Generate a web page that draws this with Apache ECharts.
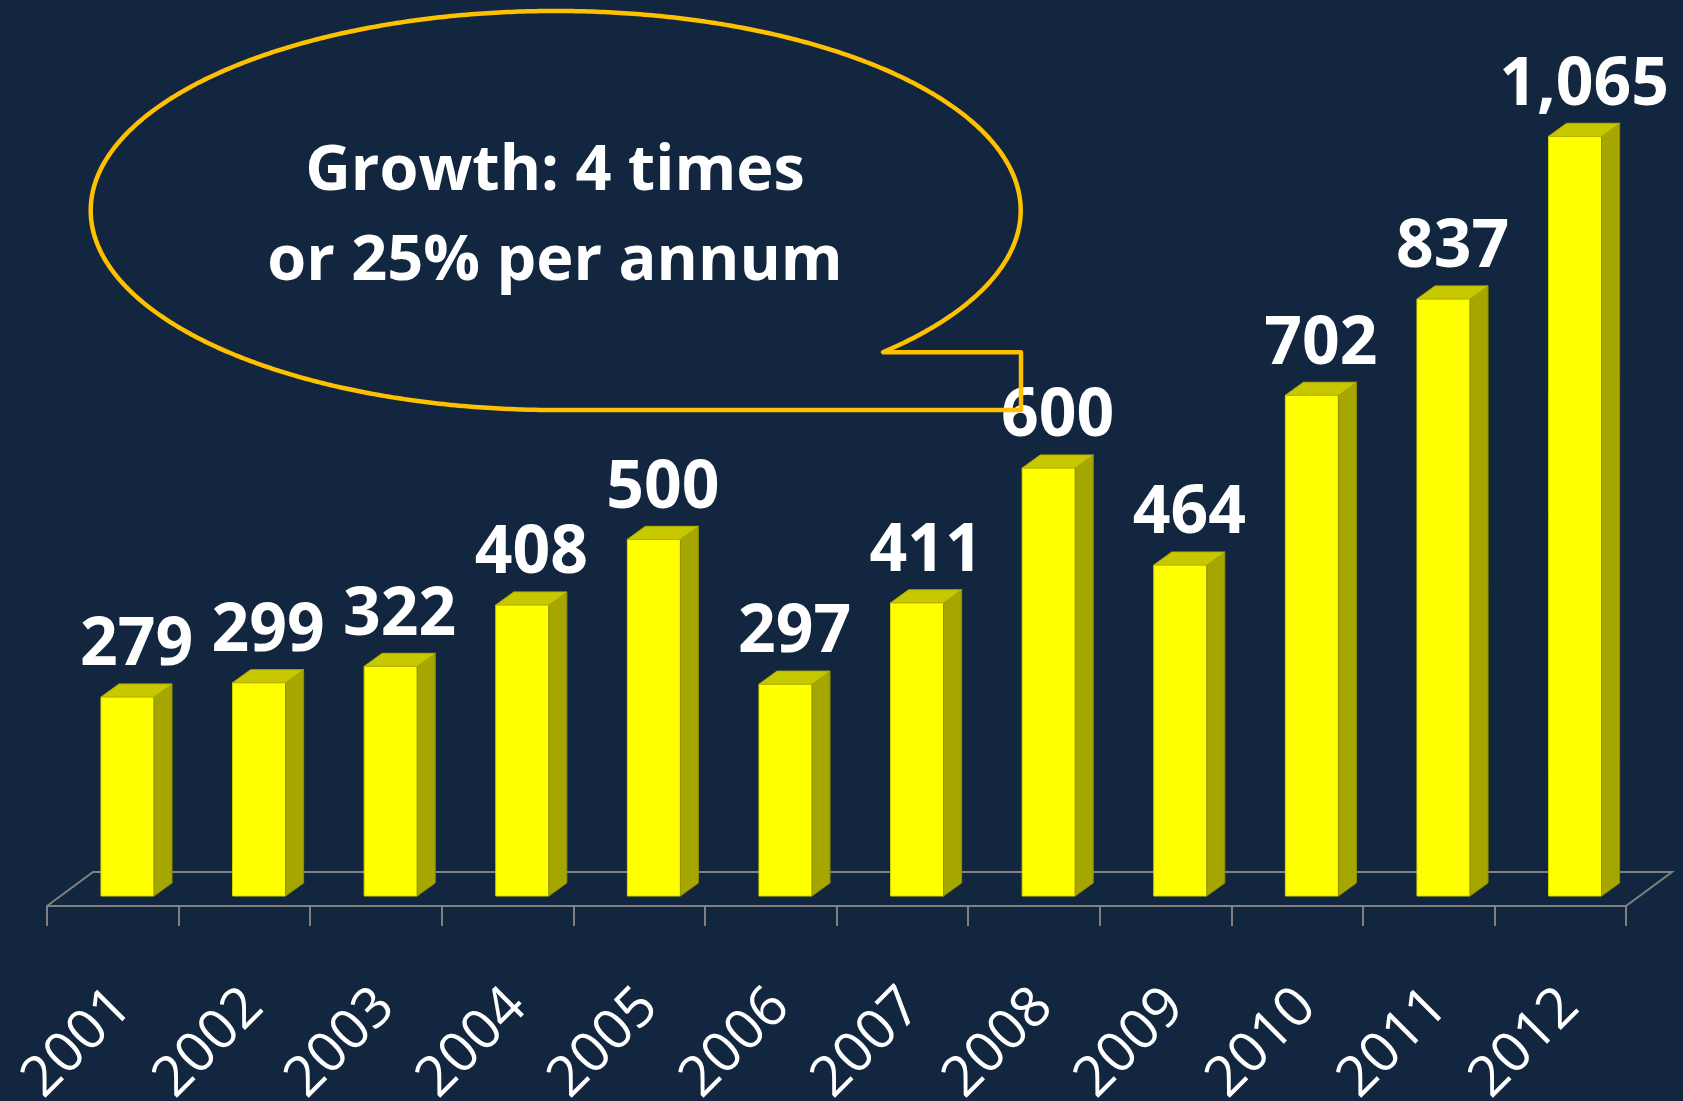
<!DOCTYPE html>
<html>
<head>
<meta charset="utf-8">
<title>Growth 2001–2012</title>
<script src="https://cdn.jsdelivr.net/npm/echarts@6/dist/echarts.min.js"></script>
<style>
  html, body { margin: 0; padding: 0; background: #12263f; }
  #chart { width: 1683px; height: 1101px; }
</style>
</head>
<body>
<div id="chart"></div>
<script>
// Yearly values shown as 3D columns
const years = ['2001', '2002', '2003', '2004', '2005', '2006', '2007', '2008', '2009', '2010', '2011', '2012'];
const values = [279, 299, 322, 408, 500, 297, 411, 600, 464, 702, 837, 1065];
const calloutLines = ['Growth: 4 times', 'or 25% per annum'];

const FONT = '"Open Sans", "Noto Sans", sans-serif';

// One 3D column: front face, shaded side, lighter top, and the value above it
function renderColumn(params, api) {
  const i = api.value(0);
  const v = api.value(1);
  const base = api.coord([i, 0]);
  const top = api.coord([i, v]);
  const band = api.size([1, 0])[0];
  const w = band * 0.403, dx = band * 0.137, dy = band * 0.099;
  const x0 = base[0] - w / 2, x1 = base[0] + w / 2;
  const y0 = base[1], y1 = top[1];
  return {
    type: 'group',
    children: [
      { type: 'polygon', shape: { points: [[x0, y1], [x1, y1], [x1, y0], [x0, y0]] },
        style: { fill: '#ffff00', stroke: '#d8d800', lineWidth: 1 } },
      { type: 'polygon', shape: { points: [[x1, y1], [x1 + dx, y1 - dy], [x1 + dx, y0 - dy], [x1, y0]] },
        style: { fill: '#a6a600', stroke: '#8e8e00', lineWidth: 1 } },
      { type: 'polygon', shape: { points: [[x0, y1], [x0 + dx, y1 - dy], [x1 + dx, y1 - dy], [x1, y1]] },
        style: { fill: '#c8c800', stroke: '#b0b000', lineWidth: 1 } },
      { type: 'text',
        style: { x: (x0 + x1 + dx) / 2, y: y1 - 50.5, text: v.toLocaleString('en-US'),
                 fill: '#ffffff', font: 'bold 66px ' + FONT, align: 'center', verticalAlign: 'middle' } }
    ]
  };
}

// Back edge and sides of the floor plate (front edge is the category axis line)
function renderFloor(params, api) {
  const cs = params.coordSys;
  const fy = cs.y + cs.height;
  const dx = 46, dy = 34;
  return {
    type: 'polyline',
    shape: { points: [[cs.x, fy], [cs.x + dx, fy - dy], [cs.x + cs.width + dx, fy - dy], [cs.x + cs.width, fy]] },
    style: { stroke: '#808080', lineWidth: 2, fill: null }
  };
}

// Speech-bubble outline: ellipse arc, then a squared-off tail back to the bottom of the ellipse
function bubblePoints(cx, cy, rx, ry, joinX, cornerX) {
  const pts = [];
  const endAngle = 2 * Math.PI + Math.acos((joinX - cx) / rx);
  for (let t = Math.PI / 2; t <= endAngle; t += Math.PI / 360) {
    pts.push([cx + rx * Math.cos(t), cy + ry * Math.sin(t)]);
  }
  const joinY = cy + ry * Math.sin(endAngle);
  pts.push([joinX, joinY]);
  pts.push([cornerX, joinY]);
  pts.push([cornerX, cy + ry]);
  pts.push([cx, cy + ry]);
  return pts;
}

const chart = echarts.init(document.getElementById('chart'));
chart.setOption({
  backgroundColor: '#12263f',
  animation: false,
  grid: [
    { left: 61.7, right: 42.1, top: 40, bottom: 205, outerBoundsMode: 'none', containLabel: false },
    { left: 47, right: 57, top: 40, bottom: 195, outerBoundsMode: 'none', containLabel: false },
    { left: 57, right: 47, top: 40, bottom: 195, outerBoundsMode: 'none', containLabel: false }
  ],
  xAxis: [
    { gridIndex: 0, type: 'category', data: years, show: false },
    { gridIndex: 1, type: 'category', data: years, boundaryGap: true,
      axisLine: { show: true, lineStyle: { color: '#808080', width: 2 } },
      axisTick: { show: true, inside: false, length: 20, alignWithLabel: false,
                  lineStyle: { color: '#808080', width: 2 } },
      axisLabel: { show: false } },
    { gridIndex: 2, type: 'category', data: years, boundaryGap: true,
      axisLine: { show: false }, axisTick: { show: false },
      axisLabel: { rotate: 45, margin: 92, color: '#ffffff', fontSize: 56,
                   fontFamily: FONT, interval: 0 } }
  ],
  yAxis: [
    { gridIndex: 0, type: 'value', min: 0, max: 1200, show: false },
    { gridIndex: 1, type: 'value', min: 0, max: 1, show: false },
    { gridIndex: 2, type: 'value', min: 0, max: 1, show: false }
  ],
  series: [
    { type: 'custom', xAxisIndex: 1, yAxisIndex: 1, z: 1, silent: true,
      renderItem: renderFloor, data: [[0, 0]] },
    { type: 'custom', xAxisIndex: 0, yAxisIndex: 0, z: 2, silent: true,
      renderItem: renderColumn, data: values.map((v, i) => [i, v]) }
  ],
  graphic: [
    { type: 'polyline', z: 100, silent: true,
      shape: { points: bubblePoints(555.7, 210.5, 465, 199.5, 883, 1021) },
      style: { stroke: '#ffc000', lineWidth: 4.5, fill: null, lineJoin: 'round' } },
    { type: 'text', z: 101, x: 555, y: 172, silent: true,
      style: { text: calloutLines[0], fill: '#ffffff', font: 'bold 63px ' + FONT,
               align: 'center', verticalAlign: 'middle' } },
    { type: 'text', z: 101, x: 555, y: 262, silent: true,
      style: { text: calloutLines[1], fill: '#ffffff', font: 'bold 63px ' + FONT,
               align: 'center', verticalAlign: 'middle' } }
  ]
});
</script>
</body>
</html>
